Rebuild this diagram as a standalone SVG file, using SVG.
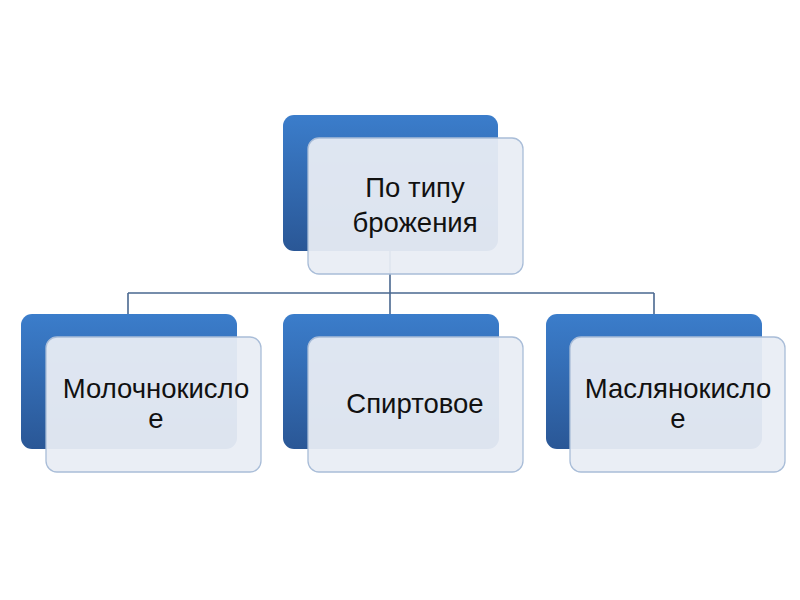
<svg xmlns="http://www.w3.org/2000/svg" width="800" height="600" viewBox="0 0 800 600">
<defs>
<linearGradient id="blueGrad" x1="0" y1="0" x2="0" y2="1">
<stop offset="0" stop-color="#3B7DCB"/>
<stop offset="1" stop-color="#2A5796"/>
</linearGradient>
<style>
.back{fill:url(#blueGrad);}
.front{fill:#E9EDF4;fill-opacity:0.94;stroke:#A9BDD8;stroke-width:1.3;}
.conn{fill:none;stroke:#4A6890;stroke-width:1.6;}
.lbl{font-family:"Liberation Sans",Arial,sans-serif;font-size:27.5px;fill:#111;text-anchor:middle;}
</style>
</defs>
<rect width="800" height="600" fill="#fff"/>
<g id="connectors">
<path class="conn" d="M390 250 V293 M128 293 H654 M128 293 V315 M390 293 V315 M654 293 V315"/>
</g>
<g id="node-top">
<rect class="back" x="283" y="115" width="215" height="136" rx="11"/>
<rect class="front" x="308" y="138" width="215" height="136" rx="11"/>
<text class="lbl" x="415" y="197">По типу</text>
<text class="lbl" x="415" y="232">брожения</text>
</g>
<g id="node-lactic">
<rect class="back" x="21" y="314" width="216" height="135" rx="11"/>
<rect class="front" x="46" y="337" width="215" height="135" rx="11"/>
<text class="lbl" x="156" y="398">Молочнокисло</text>
<text class="lbl" x="156" y="428">е</text>
</g>
<g id="node-alcohol">
<rect class="back" x="283" y="314" width="216" height="135" rx="11"/>
<rect class="front" x="308" y="337" width="215" height="135" rx="11"/>
<text class="lbl" x="415" y="413">Спиртовое</text>
</g>
<g id="node-butyric">
<rect class="back" x="546" y="314" width="216" height="135" rx="11"/>
<rect class="front" x="570" y="337" width="215" height="135" rx="11"/>
<text class="lbl" x="678" y="398">Маслянокисло</text>
<text class="lbl" x="678" y="428">е</text>
</g>
</svg>
